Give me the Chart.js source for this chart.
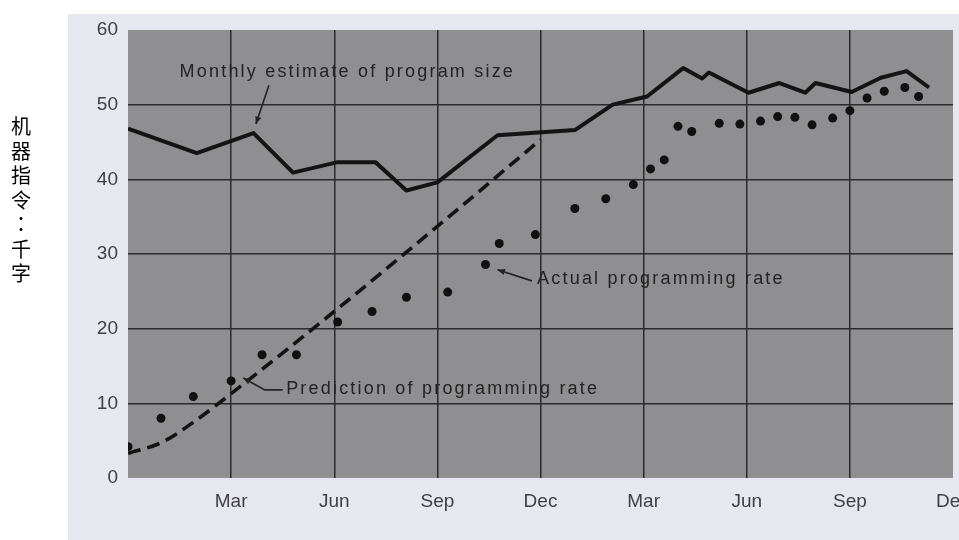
<!DOCTYPE html>
<html>
<head>
<meta charset="utf-8">
<script src="https://cdn.jsdelivr.net/npm/chart.js@4/dist/chart.umd.min.js"></script>
<style>
  html, body { margin: 0; padding: 0; background: #ffffff; }
  #wrap { position: relative; width: 959px; height: 540px; }
  #c { position: absolute; left: 0; top: 0; }
  #ylab { position: absolute; left: 7px; top: 114px; width: 28px; font-family: "Noto Sans CJK SC", sans-serif; font-size: 20px; line-height: 24.5px; text-align: center; color: #000; }
  #ylab .p { font-family: "Noto Sans CJK TC", "Noto Sans CJK SC", sans-serif; }
</style>
</head>
<body>
<div id="wrap">
  <canvas id="c" width="959" height="540"></canvas>
  <div id="ylab">机<br>器<br>指<br>令<br><span class="p">：</span><br>千<br>字</div>
</div>
<script>
// ---- data (months counted from the first December) ----
const xTickLabels = ['', 'Mar', 'Jun', 'Sep', 'Dec', 'Mar', 'Jun', 'Sep', 'Dec'];
const yTickValues = [0, 10, 20, 30, 40, 50, 60];

const estimateMonths = [0, 2, 3.65, 4.8, 6.1, 7.2, 8.1, 9, 10.75, 13, 14.1, 15.1, 16.15, 16.7, 16.9, 18.05, 18.95, 19.7, 20, 21.05, 21.9, 22.65, 23.3];
const estimateValues = [46.8, 43.5, 46.2, 40.9, 42.3, 42.3, 38.5, 39.6, 45.9, 46.6, 50.0, 51.1, 54.9, 53.5, 54.3, 51.6, 52.9, 51.6, 52.9, 51.7, 53.6, 54.5, 52.3];

const predictionMonths = [0, 1, 2, 3, 6, 9, 12];
const predictionValues = [3.3, 4.8, 7.8, 11.3, 22.3, 33.7, 45.3];

const actualMonths = [0, 0.96, 1.9, 3.0, 3.9, 4.9, 6.1, 7.1, 8.1, 9.3, 10.4, 10.8, 11.85, 13.0, 13.9, 14.7, 15.2, 15.6, 16.0, 16.4, 17.2, 17.8, 18.4, 18.9, 19.4, 19.9, 20.5, 21.0, 21.5, 22.0, 22.6, 23.0];
const actualValues = [4.2, 8.0, 10.9, 13.0, 16.5, 16.5, 20.9, 22.3, 24.2, 24.9, 28.6, 31.4, 32.6, 36.1, 37.4, 39.3, 41.4, 42.6, 47.1, 46.4, 47.5, 47.4, 47.8, 48.4, 48.3, 47.3, 48.2, 49.2, 50.9, 51.8, 52.3, 51.1];

// annotation labels: text anchored at (month, value), leader polyline ends with arrow
const annotationTexts = ['Monthly estimate of program size', 'Prediction of programming rate', 'Actual programming rate'];
const annotationAnchors = [[1.5, 54.4], [4.6, 11.9], [11.9, 26.6]];
const annotationLeaders = [
  [[4.1, 52.6], [3.72, 47.4]],
  [[4.5, 11.8], [3.98, 11.8], [3.35, 13.4]],
  [[11.75, 26.4], [10.75, 27.9]]
];

const zip = (xs, ys) => xs.map((x, i) => ({ x: x, y: ys[i] }));

const backdrop = {
  id: 'backdrop',
  beforeDraw(chart) {
    const { ctx, chartArea: a } = chart;
    ctx.save();
    ctx.fillStyle = '#e7e7f0';
    ctx.fillRect(68, 14, chart.width - 68, chart.height - 14);
    ctx.fillStyle = '#8f8f91';
    ctx.fillRect(a.left, a.top, a.right - a.left, a.bottom - a.top);
    ctx.restore();
  }
};

const notes = {
  id: 'notes',
  afterDatasetsDraw(chart) {
    const { ctx, scales: { x, y } } = chart;
    ctx.save();
    ctx.fillStyle = '#232323';
    ctx.strokeStyle = '#232323';
    ctx.font = '18px "Liberation Sans", Arial, sans-serif';
    ctx.letterSpacing = '2.2px';
    ctx.textBaseline = 'middle';
    ctx.textAlign = 'left';
    annotationTexts.forEach((t, i) => {
      const [mx, my] = annotationAnchors[i];
      ctx.fillText(t, x.getPixelForValue(mx), y.getPixelForValue(my));
      const pts = annotationLeaders[i].map(p => [x.getPixelForValue(p[0]), y.getPixelForValue(p[1])]);
      ctx.lineWidth = 1.6;
      ctx.beginPath();
      pts.forEach((p, k) => k ? ctx.lineTo(p[0], p[1]) : ctx.moveTo(p[0], p[1]));
      ctx.stroke();
      const n = pts.length;
      const [ex, ey] = pts[n - 1];
      const [sx, sy] = pts[n - 2];
      const ang = Math.atan2(ey - sy, ex - sx);
      ctx.beginPath();
      ctx.moveTo(ex, ey);
      ctx.lineTo(ex - 8 * Math.cos(ang - 0.4), ey - 8 * Math.sin(ang - 0.4));
      ctx.lineTo(ex - 8 * Math.cos(ang + 0.4), ey - 8 * Math.sin(ang + 0.4));
      ctx.closePath();
      ctx.fill();
    });
    ctx.restore();
  }
};

const gridColor = (lo, hi) => (c) => (c.tick && (c.tick.value === lo || c.tick.value === hi)) ? 'rgba(0,0,0,0)' : '#2b2b2d';

new Chart(document.getElementById('c'), {
  type: 'line',
  data: {
    datasets: [
      {
        label: 'Monthly estimate of program size',
        data: zip(estimateMonths, estimateValues),
        borderColor: '#141414',
        borderWidth: 4,
        pointRadius: 0,
        tension: 0,
        borderJoinStyle: 'round'
      },
      {
        label: 'Prediction of programming rate',
        data: zip(predictionMonths, predictionValues),
        borderColor: '#141414',
        borderWidth: 3.6,
        borderDash: [13, 7],
        pointRadius: 0,
        cubicInterpolationMode: 'monotone'
      },
      {
        label: 'Actual programming rate',
        data: zip(actualMonths, actualValues),
        showLine: false,
        pointRadius: 4.5,
        pointBackgroundColor: '#111111',
        pointBorderWidth: 0
      }
    ]
  },
  options: {
    responsive: false,
    animation: false,
    layout: { padding: { left: 0, top: 30, right: 6, bottom: 0 } },
    plugins: { legend: { display: false }, tooltip: { enabled: false } },
    scales: {
      x: {
        type: 'linear',
        min: 0,
        max: 24,
        border: { display: false },
        grid: { color: gridColor(0, 24), lineWidth: 1.5, drawTicks: false },
        ticks: {
          stepSize: 3,
          padding: 12,
          maxRotation: 0,
          autoSkip: false,
          color: '#404042',
          font: { family: '"Liberation Sans", Arial, sans-serif', size: 19 },
          callback: (v) => xTickLabels[v / 3] || ''
        },
        afterFit(s) { s.height = 62; s.paddingLeft = 0; s.paddingRight = 0; }
      },
      y: {
        min: 0,
        max: 60,
        border: { display: false },
        grid: { color: gridColor(0, 60), lineWidth: 1.5, drawTicks: false },
        afterBuildTicks(s) { s.ticks = yTickValues.map(v => ({ value: v })); },
        ticks: {
          padding: 10,
          color: '#404042',
          font: { family: '"Liberation Sans", Arial, sans-serif', size: 19 }
        },
        afterFit(s) { s.width = 128; }
      }
    }
  },
  plugins: [backdrop, notes]
});
</script>
</body>
</html>
